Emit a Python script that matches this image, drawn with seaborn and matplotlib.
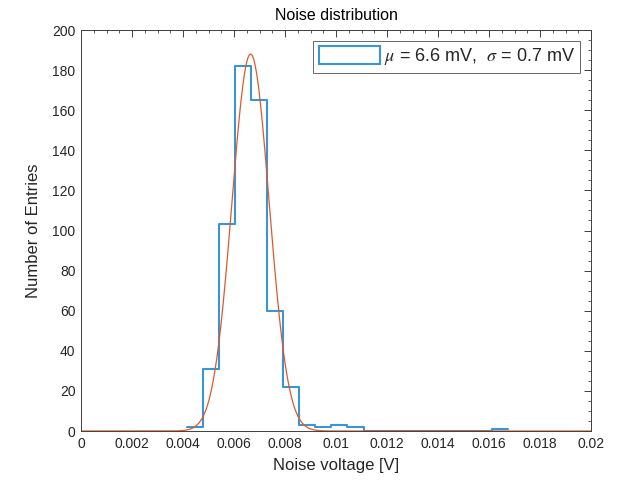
#!/usr/bin/env python3
"""Noise distribution histogram with gaussian fit (MATLAB-style look)."""
import numpy as np
import pandas as pd
import matplotlib
matplotlib.use('Agg')
import matplotlib.pyplot as plt
import seaborn as sns
from matplotlib.ticker import MultipleLocator
from matplotlib.patches import Patch

# histogram bins
bin_width = 0.00063
bin_start = 0.00415
counts = [2, 31, 103, 182, 165, 60, 22, 3, 2, 3, 2, 0, 0, 0, 0, 0, 0, 0, 0, 1]

# gaussian fit shown on top
fit_amp = 188
fit_mu = 0.00665
fit_sigma = 0.00073

legend_label = r'$\mu$ = 6.6 mV,  $\sigma$ = 0.7 mV'

BLUE = '#3a95d4'
ORANGE = '#E0592A'

sns.set_style('white')
plt.rcParams['font.family'] = ['Liberation Sans', 'DejaVu Sans']
plt.rcParams['mathtext.fontset'] = 'stix'

n_bins = len(counts)
bin_end = bin_start + bin_width * n_bins
centers = bin_start + bin_width * (np.arange(n_bins) + 0.5)
df = pd.DataFrame({'voltage': centers, 'count': counts})

x_fit = np.linspace(0, 0.02, 800)
y_fit = fit_amp * np.exp(-0.5 * ((x_fit - fit_mu) / fit_sigma) ** 2)
df_fit = pd.DataFrame({'voltage': x_fit, 'fit': y_fit})

fig = plt.figure(figsize=(6.25, 4.84), dpi=100)
ax = fig.add_axes([0.1296, 0.1095, 0.816, 0.8285])

sns.histplot(data=df, x='voltage', weights='count', bins=n_bins,
             binrange=(bin_start, bin_end),
             element='step', fill=False, color=BLUE, linewidth=1.5, ax=ax)
sns.lineplot(data=df_fit, x='voltage', y='fit', color=ORANGE, linewidth=0.9, ax=ax)

ax.set_xlim(0, 0.02)
ax.set_ylim(0, 200)
ax.xaxis.set_major_locator(MultipleLocator(0.002))
ax.xaxis.set_minor_locator(MultipleLocator(0.0005))
ax.yaxis.set_major_locator(MultipleLocator(20))
ax.yaxis.set_minor_locator(MultipleLocator(5))
xt = np.arange(0, 0.0201, 0.002)
ax.set_xticks(xt)
ax.set_xticklabels(['%g' % round(v, 3) for v in xt])

ax.tick_params(which='both', direction='in', top=True, right=True,
               color='#404040', labelsize=10, labelcolor='#262626')
ax.tick_params(which='major', length=5, width=0.7, pad=4)
ax.tick_params(which='minor', length=2.5, width=0.6)
for s in ax.spines.values():
    s.set_color('#404040')
    s.set_linewidth(0.7)

ax.set_xlabel('Noise voltage [V]', fontsize=12, color='#262626', labelpad=5)
ax.set_ylabel('Number of Entries', fontsize=12, color='#262626', labelpad=8)
ax.set_title('Noise distribution', fontsize=11.5, color='black', pad=7)

handle = Patch(facecolor='white', edgecolor=BLUE, linewidth=1.5)
leg = ax.legend([handle], [legend_label], loc='upper right', fontsize=13,
                frameon=True, fancybox=False, handlelength=3.4, handleheight=1.1,
                borderaxespad=0.6, borderpad=0.3, handletextpad=0.2)
leg.get_frame().set_edgecolor('#404040')
leg.get_frame().set_linewidth(0.7)

fig.savefig('out.png', dpi=100)
